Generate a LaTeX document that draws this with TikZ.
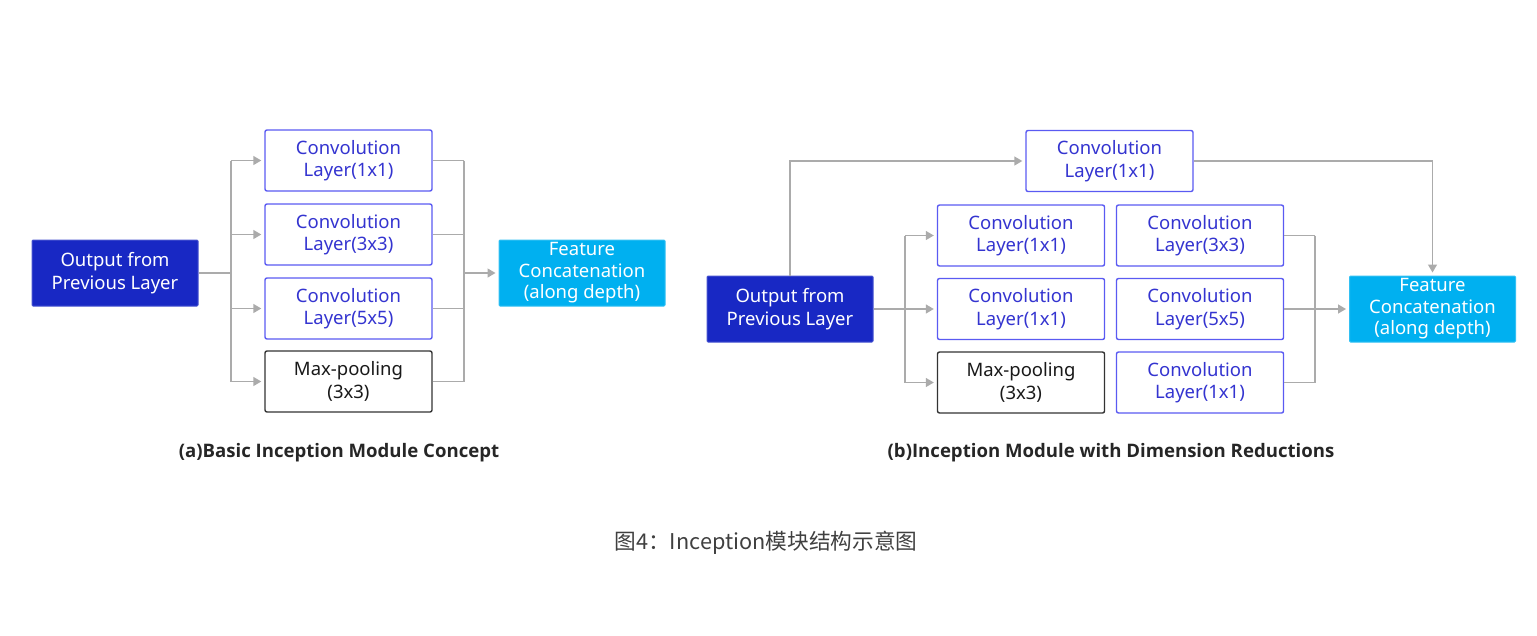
\documentclass[tikz,border=0pt]{standalone}
\usepackage{fontspec}
\setmainfont{Noto Sans}
\newfontfamily\cjk{Noto Sans CJK SC}
\newfontfamily\capff{Open Sans}
\usetikzlibrary{arrows.meta}
\definecolor{darkb}{HTML}{1828C4}
\definecolor{featb}{HTML}{00B0F0}
\definecolor{boxedge}{HTML}{5A5AF2}
\definecolor{boxtxt}{HTML}{3434D0}
\definecolor{linegray}{HTML}{ABABAB}
\definecolor{captxt}{HTML}{404040}
\tikzset{
  lbox/.style={draw=boxedge, line width=1.4pt, rounded corners=2pt, fill=white,
    minimum width=167pt, minimum height=61pt, align=center, text=boxtxt,
    font=\fontsize{18.5}{22.5}\selectfont, inner sep=0pt},
  pbox/.style={lbox, draw=black!80, text=black!90},
  outbox/.style={draw=darkb!80!white, line width=1pt, fill=darkb, rounded corners=1pt,
    minimum width=166pt, minimum height=66pt, align=center, text=white,
    font=\fontsize{18.5}{22.5}\selectfont, inner sep=0pt},
  featbox/.style={outbox, fill=featb, draw=featb!80!white, font=\fontsize{18.5}{21.5}\selectfont},
  conn/.style={draw=linegray, line width=1.4pt},
  arr/.style={conn, -{Triangle[length=8pt,width=9pt]}, shorten >=3pt},
  capfont/.style={font=\capff\bfseries\fontsize{18.6}{21}\selectfont, text=black!85}
}
\begin{document}
\begin{tikzpicture}[x=1pt,y=-1pt]
\useasboundingbox (0,0) rectangle (1537,635);
% (a)
\node[outbox] (outa) at (115,273) {Output from\\Previous Layer};
\node[lbox] (a1) at (348.5,160.5) {Convolution\\Layer(1x1)};
\node[lbox] (a2) at (348.5,234.5) {Convolution\\Layer(3x3)};
\node[lbox] (a3) at (348.5,308.5) {Convolution\\Layer(5x5)};
\node[pbox] (a4) at (348.5,381.5) {Max-pooling\\(3x3)};
\node[featbox] (fa) at (582,273) {Feature\\Concatenation\\(along depth)};
\coordinate (ja) at (231,273);
\coordinate (ra) at (464,273);
\draw[conn] (outa.east) -- (ja);
\draw[conn] (ja |- a1.west) -- (ja |- a4.west);
\foreach \n in {a1,a2,a3,a4} {
  \draw[arr] (ja |- \n.west) -- (\n.west);
  \draw[conn] (\n.east) -- (ra |- \n.east);
}
\draw[conn] (ra |- a1.east) -- (ra |- a4.east);
\draw[arr] (ra) -- (fa.west);
\node[capfont] (capa) at (339,453) {(a)Basic Inception Module Concept};
% (b)
\node[outbox] (outb) at (790,309) {Output from\\Previous Layer};
\node[lbox] (bt) at (1109.5,161) {Convolution\\Layer(1x1)};
\node[lbox] (l1) at (1021,235.5) {Convolution\\Layer(1x1)};
\node[lbox] (l2) at (1021,309) {Convolution\\Layer(1x1)};
\node[pbox] (l3) at (1021,382.5) {Max-pooling\\(3x3)};
\node[lbox] (r1) at (1200,235.5) {Convolution\\Layer(3x3)};
\node[lbox] (r2) at (1200,309) {Convolution\\Layer(5x5)};
\node[lbox] (r3) at (1200,382.5) {Convolution\\Layer(1x1)};
\node[featbox] (fb) at (1432.5,309) {Feature\\Concatenation\\(along depth)};
\coordinate (jb) at (905,309);
\coordinate (rb) at (1315,309);
\draw[arr] (outb.north) |- (bt.west);
\draw[arr] (bt.east) -| (fb.north);
\draw[arr] (outb.east) -- (l2.west);
\draw[conn] (jb |- l1.west) -- (jb |- l3.west);
\draw[arr] (jb |- l1.west) -- (l1.west);
\draw[arr] (jb |- l3.west) -- (l3.west);
\draw[conn] (r1.east) -- (rb |- r1.east);
\draw[conn] (r3.east) -- (rb |- r3.east);
\draw[conn] (rb |- r1.east) -- (rb |- r3.east);
\draw[arr] (r2.east) -- (fb.west);
\node[capfont] (capb) at (1111,453) {(b)Inception Module with Dimension Reductions};
% caption
\node[font=\cjk\fontsize{21.7}{24}\selectfont, text=captxt] (cap) at (766,543) {图4：Inception模块结构示意图};
\end{tikzpicture}
\end{document}
